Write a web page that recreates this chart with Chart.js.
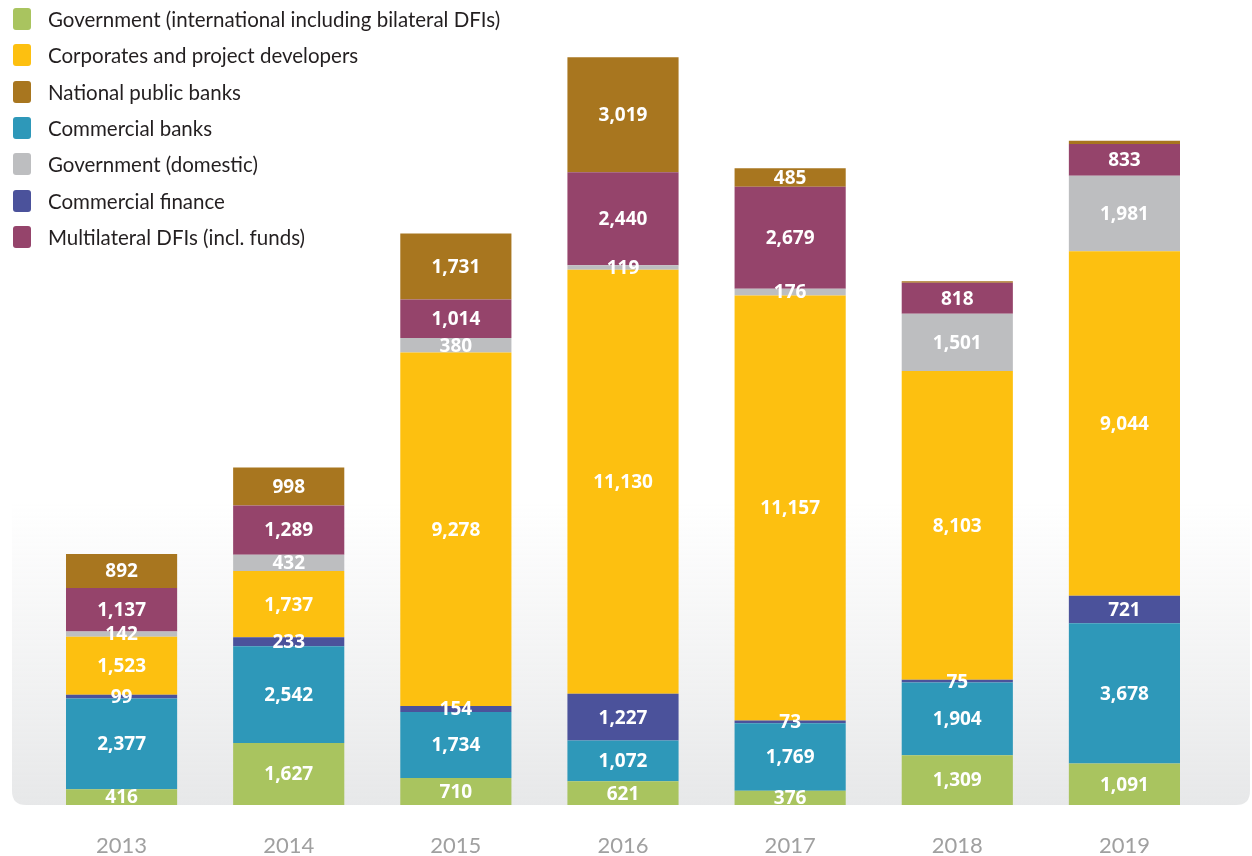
<!DOCTYPE html>
<html>
<head>
<meta charset="utf-8">
<script src="https://cdn.jsdelivr.net/npm/chart.js@4"></script>
<style>
  html, body { margin: 0; padding: 0; background: #ffffff; }
  #wrap { position: relative; width: 1252px; height: 856px; }
  #legend { position: absolute; left: 13px; top: 1px; font-family: Lato, "Open Sans", sans-serif; font-size: 20.5px; color: #231f20; }
  #legend .row { height: 36.3px; display: flex; align-items: center; }
  #legend .sw { width: 18px; height: 22px; border-radius: 3px; margin-right: 17px; flex: none; }
</style>
</head>
<body>
<div id="wrap">
  <canvas id="c" width="1252" height="856"></canvas>
  <div id="legend"></div>
</div>
<script>
const years = ["2013", "2014", "2015", "2016", "2017", "2018", "2019"];
const govIntl      = [416, 1627, 710, 621, 376, 1309, 1091];
const commBanks    = [2377, 2542, 1734, 1072, 1769, 1904, 3678];
const commFinance  = [99, 233, 154, 1227, 73, 75, 721];
const corporates   = [1523, 1737, 9278, 11130, 11157, 8103, 9044];
const govDomestic  = [142, 432, 380, 119, 176, 1501, 1981];
const multilateral = [1137, 1289, 1014, 2440, 2679, 818, 833];
const natPublic    = [892, 998, 1731, 3019, 485, 40, 85];

const seriesNames = {
  govIntl: "Government (international including bilateral DFIs)",
  corporates: "Corporates and project developers",
  natPublic: "National public banks",
  commBanks: "Commercial banks",
  govDomestic: "Government (domestic)",
  commFinance: "Commercial finance",
  multilateral: "Multilateral DFIs (incl. funds)"
};
const colors = {
  govIntl: "#a9c45f",
  corporates: "#fdc010",
  natPublic: "#a8761f",
  commBanks: "#2e98b9",
  govDomestic: "#bdbec0",
  commFinance: "#4b529b",
  multilateral: "#95446b"
};
const dataMap = { govIntl, commBanks, commFinance, corporates, govDomestic, multilateral, natPublic };
const stackOrder = ["govIntl", "commBanks", "commFinance", "corporates", "govDomestic", "multilateral", "natPublic"];
const legendOrder = ["govIntl", "corporates", "natPublic", "commBanks", "govDomestic", "commFinance", "multilateral"];
// the unlabelled slivers at the top of the 2018 and 2019 bars
const topLabelMin = 100;

// legend
const lg = document.getElementById("legend");
legendOrder.forEach(k => {
  const r = document.createElement("div"); r.className = "row";
  const s = document.createElement("div"); s.className = "sw"; s.style.background = colors[k];
  const t = document.createElement("span"); t.textContent = seriesNames[k];
  r.appendChild(s); r.appendChild(t); lg.appendChild(r);
});

const bgPanel = {
  id: "bgPanel",
  beforeDraw(chart) {
    const ctx = chart.ctx;
    const bottom = chart.chartArea.bottom;
    const x0 = 12, x1 = 1250, top = 500, r = 14;
    const g = ctx.createLinearGradient(0, top, 0, bottom);
    g.addColorStop(0, "rgba(233,234,235,0)");
    g.addColorStop(1, "rgba(231,232,233,1)");
    ctx.save();
    ctx.beginPath();
    ctx.moveTo(x0, top);
    ctx.lineTo(x1, top);
    ctx.lineTo(x1, bottom - r);
    ctx.quadraticCurveTo(x1, bottom, x1 - r, bottom);
    ctx.lineTo(x0 + r, bottom);
    ctx.quadraticCurveTo(x0, bottom, x0, bottom - r);
    ctx.closePath();
    ctx.fillStyle = g;
    ctx.fill();
    ctx.restore();
  }
};

const valueLabels = {
  id: "valueLabels",
  afterDatasetsDraw(chart) {
    const ctx = chart.ctx;
    ctx.save();
    ctx.fillStyle = "#ffffff";
    ctx.font = "bold 19px 'Open Sans', Lato, sans-serif";
    ctx.textAlign = "center";
    ctx.textBaseline = "middle";
    const lastIdx = chart.data.datasets.length - 1;
    chart.data.datasets.forEach((ds, di) => {
      const meta = chart.getDatasetMeta(di);
      meta.data.forEach((bar, i) => {
        const v = ds.data[i];
        if (di === lastIdx && v < topLabelMin) return;
        const cy = (bar.y + bar.base) / 2;
        ctx.fillText(v.toLocaleString("en-US"), bar.x, cy + 1);
      });
    });
    ctx.restore();
  }
};

new Chart(document.getElementById("c"), {
  type: "bar",
  data: {
    labels: years,
    datasets: stackOrder.map(k => ({
      label: seriesNames[k],
      data: dataMap[k],
      backgroundColor: colors[k],
      borderWidth: 0,
      barPercentage: 0.665,
      categoryPercentage: 1
    }))
  },
  options: {
    responsive: false,
    animation: false,
    layout: { padding: { top: 43, left: 38, right: 44, bottom: 0 } },
    plugins: { legend: { display: false }, tooltip: { enabled: false } },
    scales: {
      x: {
        stacked: true,
        grid: { display: false },
        border: { display: false },
        ticks: { color: "#a0a0a0", font: { family: "Lato, 'Open Sans', sans-serif", size: 22, lineHeight: 1 }, padding: 22 },
        afterFit(scale) { scale.height = 51; }
      },
      y: {
        stacked: true,
        display: false,
        min: 0,
        max: 20000
      }
    }
  },
  plugins: [bgPanel, valueLabels]
});
</script>
</body>
</html>
